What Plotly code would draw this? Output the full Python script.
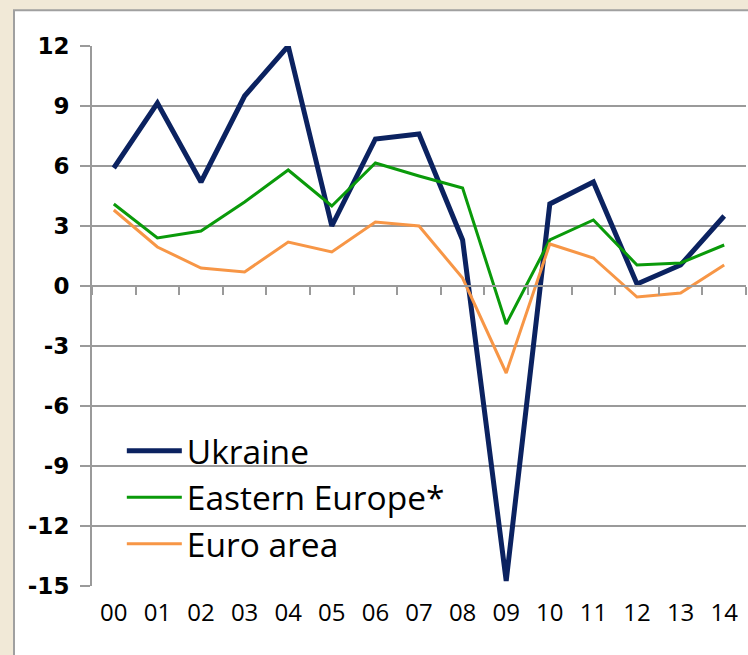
import plotly.graph_objects as go

years = ["00", "01", "02", "03", "04", "05", "06", "07", "08", "09", "10", "11", "12", "13", "14"]
ukraine = [5.9, 9.15, 5.2, 9.5, 12.0, 3.0, 7.35, 7.6, 2.3, -14.75, 4.1, 5.2, 0.1, 1.05, 3.5]
eastern_europe = [4.1, 2.4, 2.75, 4.2, 5.8, 4.0, 6.15, 5.5, 4.9, -1.9, 2.3, 3.3, 1.05, 1.15, 2.05]
euro_area = [3.8, 1.95, 0.9, 0.7, 2.2, 1.7, 3.2, 3.0, 0.4, -4.35, 2.1, 1.4, -0.55, -0.35, 1.05]

y_ticks = [12, 9, 6, 3, 0, -3, -6, -9, -12, -15]
y_ticktext = ["12", "9", "6", "3", "0", "-3", "-6", "-9", "-12", "-15"]
boundaries = [i - 0.5 for i in range(len(years) + 1)]

series = [
    ("Ukraine", ukraine, "#0b2260", 5),
    ("Eastern Europe*", eastern_europe, "#0a9a0a", 3),
    ("Euro area", euro_area, "#f79646", 3),
]

fig = go.Figure()
for i, (name, vals, color, w) in enumerate(series):
    fig.add_trace(go.Scatter(
        x=list(range(len(years))), y=vals, name=name, mode="lines",
        line=dict(color=color, width=w), legendgroup=f"g{i}",
    ))

# invisible helper trace for the category-boundary tick axis at y=0
fig.add_trace(go.Scatter(x=[boundaries[0], boundaries[-1]], y=[0, 0], xaxis="x2",
                         mode="lines", line=dict(width=0), showlegend=False, hoverinfo="skip"))

grid = "#9a9a9a"
fig.update_layout(
    width=748, height=655,
    margin=dict(l=92, r=2, t=46, b=69),
    paper_bgcolor="#f1e9d7",
    plot_bgcolor="rgba(0,0,0,0)",
    showlegend=True,
    legend=dict(
        x=0.0456, y=0.303, xanchor="left", yanchor="top",
        bgcolor="rgba(0,0,0,0)", borderwidth=0,
        font=dict(family="Open Sans", size=33.5, color="#000000"),
        itemwidth=55, tracegroupgap=0,
    ),
    xaxis=dict(
        range=[-0.5, len(years) - 0.5],
        tickmode="array", tickvals=list(range(len(years))), ticktext=years,
        showgrid=False, zeroline=False, showline=False, ticks="",
        tickfont=dict(family="Open Sans", size=24, color="#000000"),
        ticklabelstandoff=10,
    ),
    xaxis2=dict(
        overlaying="x", anchor="free", position=15 / 27, side="bottom",
        range=[-0.5, len(years) - 0.5],
        tickmode="array", tickvals=boundaries, showticklabels=False,
        ticks="outside", ticklen=8, tickwidth=1.5, tickcolor=grid,
        showline=True, linecolor=grid, linewidth=2,
        showgrid=False, zeroline=False,
    ),
    yaxis=dict(
        range=[-15, 12],
        tickmode="array", tickvals=y_ticks,
        ticktext=y_ticktext,
        showgrid=True, gridcolor=grid, gridwidth=2,
        zeroline=False,
        showline=True, linecolor=grid, linewidth=2,
        ticks="outside", ticklen=10, tickwidth=2, tickcolor=grid,
        tickfont=dict(family="DejaVu Sans", size=23, color="#000000", weight="bold"),
        ticklabelstandoff=6,
    ),
    shapes=[
        dict(type="rect", xref="paper", yref="paper", layer="below",
             x0=(14 - 92) / 654, x1=(770 - 92) / 654,
             y0=(585.7 - 680) / 540, y1=(585.7 - 10) / 540,
             fillcolor="#ffffff", line=dict(color="#a0a0a0", width=2)),
    ],
)

fig.write_html("out.html", config={"displayModeBar": False},
               post_script="document.body.style.margin='0';document.body.style.overflow='hidden';")
